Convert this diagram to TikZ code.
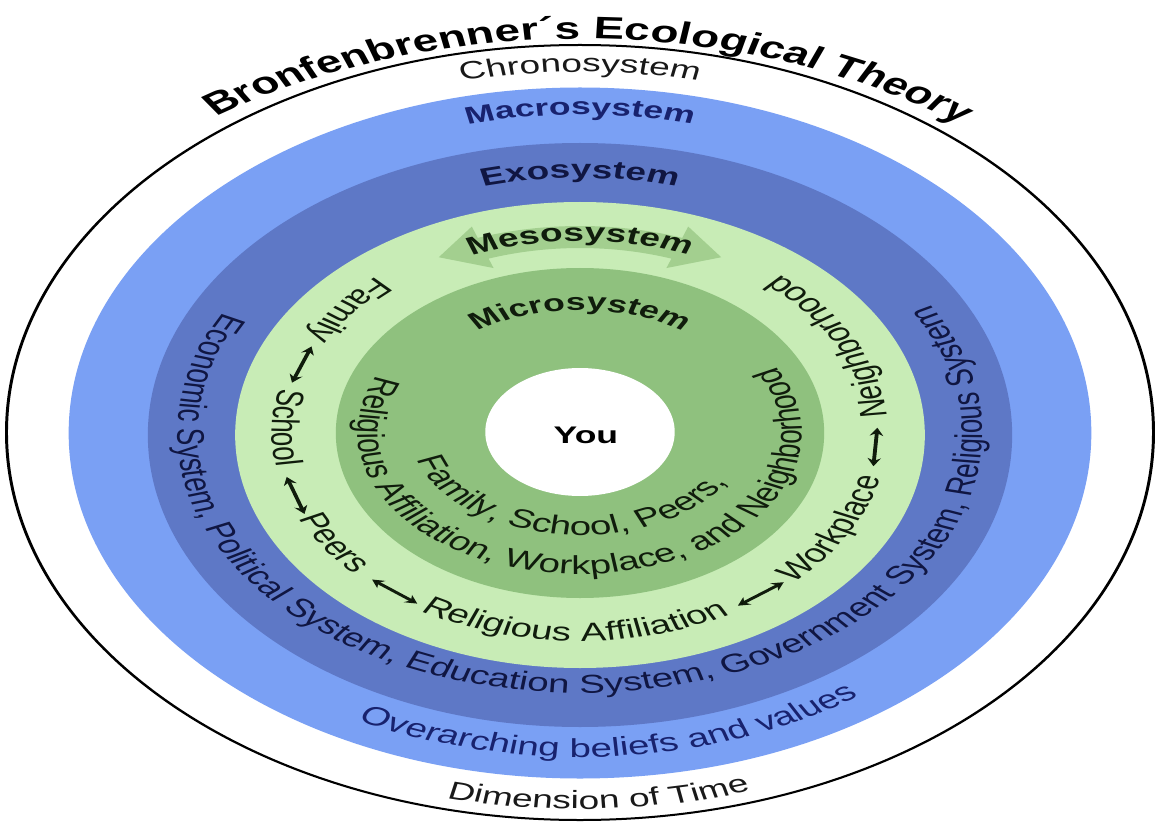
\documentclass[tikz,border=0pt]{standalone}
\usepackage{fontspec}
\setmainfont{Liberation Sans}
\usetikzlibrary{decorations.text,arrows.meta}
\definecolor{macroC}{RGB}{122,160,244}
\definecolor{exoC}{RGB}{94,120,198}
\definecolor{mesoC}{RGB}{200,236,182}
\definecolor{microC}{RGB}{143,193,126}
\definecolor{bandC}{RGB}{163,207,143}
\definecolor{navyT}{RGB}{24,34,110}
\definecolor{exoT}{RGB}{16,22,66}
\definecolor{greenT}{RGB}{16,28,12}
\definecolor{inkT}{RGB}{25,25,25}
\newcommand\fTitle{\fontsize{31}{31}\selectfont\bfseries}
\newcommand\fLabel{\fontsize{25}{25}\selectfont\bfseries}
\newcommand\fLabelS{\fontsize{24}{24}\selectfont\bfseries}
\newcommand\fPlain{\fontsize{25}{25}\selectfont}
\newcommand\fRing{\fontsize{26}{26}\selectfont}
\newcommand\fMacro{\fontsize{26}{26}\selectfont}
\newcommand\fTime{\fontsize{25}{25}\selectfont}
\tikzset{
  arctext/.style 2 args={decorate, decoration={text along path, text align=center, text color=#1, text={#2}}},
  link/.style={line width=2.6pt, draw=greenT, {Stealth[length=8pt,width=9pt]}-{Stealth[length=8pt,width=9pt]}},
  rim/.style={draw=black, line width=2pt},
  centerlabel/.style={font=\fontsize{24}{24}\selectfont\bfseries, text=black},
}
\begin{document}
\begin{tikzpicture}[x=1pt,y=1pt]
\useasboundingbox (-580,-389) rectangle (581,433);
\fill[white] (-580,-389) rectangle (581,433);
\begin{scope}[overlay, transform canvas={xscale=1.48}]
  % rings
  \draw[rim, fill=white] (0,0.5) circle[radius=387.5];
  \fill[macroC] (0,0) circle[radius=345.5];
  \fill[exoC] (0,-2) circle[radius=292];
  \fill[mesoC] (0,-2) circle[radius=233];
  \fill[microC] (0,0) circle[radius=165];
  \fill[white] (0,1) circle[radius=64];
  \node[centerlabel] (you) at (4,-2) {You};

  % mesosystem double arrow band
  \fill[bandC] (70.5:207) arc[start angle=70.5, end angle=109.5, radius=207]
     -- (109.5:219) -- (118.5:200) -- (109.5:175) -- (109.5:185)
     arc[start angle=109.5, end angle=70.5, radius=185]
     -- (70.5:175) -- (61.5:200) -- (70.5:219) -- cycle;

  % title and top labels
  \path[arctext={black}{|\fTitle|Bronfenbrenner´s Ecological Theory}]
     (150:412 and 394) arc[start angle=150, end angle=28, x radius=412, y radius=394];
  \path[arctext={inkT}{|\fPlain|Chronosystem}]
     (125:361) arc[start angle=125, end angle=55, radius=361];
  \path[arctext={navyT}{|\fLabelS|Macrosystem}]
     (125:318) arc[start angle=125, end angle=55, radius=318];
  \path[arctext={exoT}{|\fLabel|Exosystem}]
     (130:255) arc[start angle=130, end angle=50, radius=255];
  \path[arctext={greenT}{|\fLabel|Mesosystem}]
     (135:192) arc[start angle=135, end angle=45, radius=192];
  \path[arctext={greenT}{|\fLabelS|Microsystem}]
     (150:123) arc[start angle=150, end angle=30, radius=123];

  % bottom labels
  \path[arctext={inkT}{|\fTime|Dimension of Time}]
     (242:376) arc[start angle=242, end angle=302, radius=376];
  \path[arctext={navyT}{|\fMacro|Overarching beliefs and values}]
     (214:324) arc[start angle=214, end angle=334, radius=324];
  \path[arctext={exoT}{|\fRing|Economic System, Political System, Education System, Government System, Religious System}]
     (120:272 and 260) arc[start angle=120, end angle=422, x radius=272, y radius=260];

  % mesosystem ring words
  \path[arctext={greenT}{|\fRing|Family}]
     (122:208) arc[start angle=122, end angle=162, radius=208];
  \path[arctext={greenT}{|\fRing|School}]
     (158.6:208) arc[start angle=158.6, end angle=198.6, radius=208];
  \path[arctext={greenT}{|\fRing|Peers}]
     (193.5:208) arc[start angle=193.5, end angle=233.5, radius=208];
  \path[arctext={greenT}{|\fRing|Religious Affiliation}]
     (229:208) arc[start angle=229, end angle=309, radius=208];
  \path[arctext={greenT}{|\fRing|Workplace}]
     (300.6:208) arc[start angle=300.6, end angle=360.6, radius=208];
  \path[arctext={greenT}{|\fRing|Neighborhood}]
     (357:208) arc[start angle=357, end angle=417, radius=208];

  % links between the mesosystem words
  \coordinate (fs1) at (154.5:201); \coordinate (fs2) at (165.5:201);
  \coordinate (sp1) at (192.5:203); \coordinate (sp2) at (203.5:203);
  \coordinate (pr1) at (226.2:203); \coordinate (pr2) at (237.2:203);
  \coordinate (rw1) at (301.7:203); \coordinate (rw2) at (312.7:203);
  \coordinate (wn1) at (350.5:201); \coordinate (wn2) at (361.5:201);
  \draw[link] (fs1) -- (fs2);
  \draw[link] (sp1) -- (sp2);
  \draw[link] (pr1) -- (pr2);
  \draw[link] (rw1) -- (rw2);
  \draw[link] (wn1) -- (wn2);

  % microsystem ring text
  \path[arctext={greenT}{|\fRing|Religious Affiliation, Workplace, and Neighborhood}]
     (130:150 and 141) arc[start angle=130, end angle=414, x radius=150, y radius=141];
  \path[arctext={greenT}{|\fRing|Family, School, Peers,}]
     (160:114 and 102) arc[start angle=160, end angle=366, x radius=114, y radius=102];
\end{scope}
\end{tikzpicture}
\end{document}
